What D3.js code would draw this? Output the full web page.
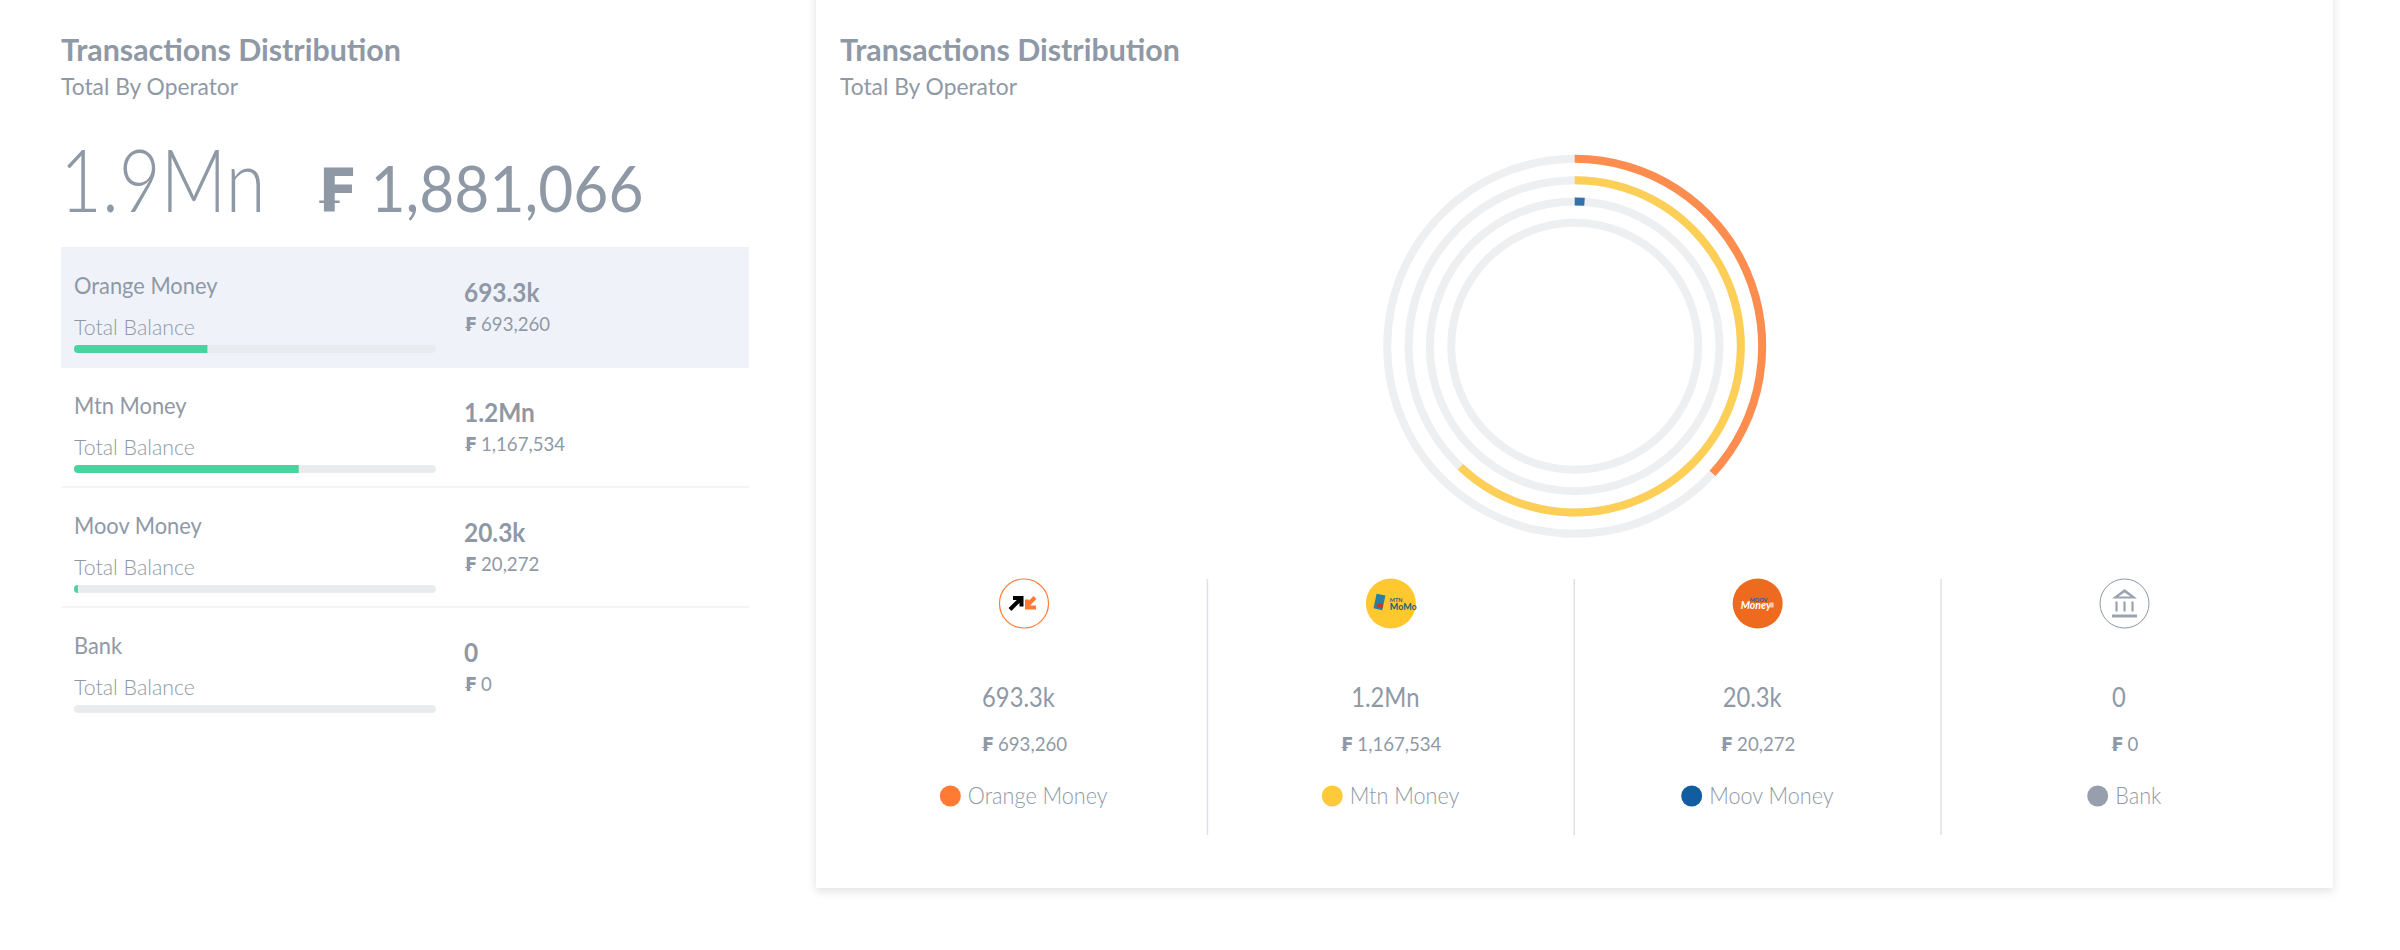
<!DOCTYPE html>
<html>
<head>
<meta charset="utf-8">
<script src="https://cdn.jsdelivr.net/npm/d3@7"></script>
<style>
  html, body { margin: 0; background: #fff; }
  svg { display: block; }
  text { font-family: Lato, "DejaVu Sans", sans-serif; fill: #8f99a6; }
  .title { font-size: 31px; font-weight: 700; }
  .sub { font-size: 24px; }
  .big { font-size: 86px; font-weight: 300; }
  .bigAmount { font-size: 63px; font-weight: 400; }
  .name { font-size: 23px; }
  .caption { font-size: 22px; font-weight: 300; }
  .val { font-size: 26px; font-weight: 700; }
  .amount { font-size: 20px; }
  .colVal { font-size: 27px; }
  .legend { font-size: 23px; font-weight: 300; }
  .cur { font-family: "DejaVu Sans"; font-weight: 700; font-size: 0.95em; }
</style>
</head>
<body>
<svg id="chart" width="2400" height="950"></svg>
<script>
const operators = ["Orange Money", "Mtn Money", "Moov Money", "Bank"]
const amounts = [693260, 1167534, 20272, 0]
const shortAmounts = ["693.3k", "1.2Mn", "20.3k", "0"]
const legendColors = ["#ff7a33", "#ffc93c", "#125ca1", "#979fac"]
const total = 1881066
const totalShort = "1.9Mn"
const currency = "₣"

// Lato runs a bit wider than the original face, so each style gets narrowed
const squeeze = { title: 0.98, sub: 0.95, big: 0.84, bigAmount: 0.96, name: 0.95, caption: 0.97, val: 0.94, amount: 0.93, colVal: 0.88, legend: 0.94 }

const svg = d3.select("#chart")
const fmt = d3.format(",")

const defs = svg.append("defs")
const shadow = defs.append("filter").attr("id", "cardShadow")
  .attr("x", "-5%").attr("y", "-5%").attr("width", "110%").attr("height", "110%")
shadow.append("feDropShadow").attr("dx", 0).attr("dy", 3).attr("stdDeviation", 5)
  .attr("flood-color", "#000").attr("flood-opacity", 0.12)

function fit(t, cls) {
  t.attr("textLength", t.node().getComputedTextLength() * squeeze[cls]).attr("lengthAdjust", "spacingAndGlyphs")
  return t
}

function text(parent, x, y, str, cls, anchor) {
  const t = parent.append("text").attr("x", x).attr("y", y).attr("class", cls)
    .attr("text-anchor", anchor || "start").text(str)
  return fit(t, cls)
}

// text with the franc sign, which only DejaVu has
function money(parent, x, y, value, cls, anchor) {
  const t = parent.append("text").attr("x", x).attr("y", y).attr("class", cls)
    .attr("text-anchor", anchor || "start")
  t.append("tspan").attr("class", "cur").text(currency)
  t.append("tspan").text(" " + value)
  return fit(t, cls)
}

function header(parent, x) {
  text(parent, x, 61, "Transactions Distribution", "title")
  text(parent, x, 95, "Total By Operator", "sub")
}

function small(g, x, y, str, size, color, extra) {
  return g.append("text").attr("x", x).attr("y", y).attr("font-size", size).attr("font-weight", 700)
    .attr("font-style", extra || "normal").style("fill", color).text(str)
}

// hand drawn stand-ins for the operator logos
const drawIcon = [
  g => {
    g.append("circle").attr("r", 24.5).attr("fill", "#fff").attr("stroke", "#ff7a33").attr("stroke-width", 1.2)
    g.append("path").attr("d", "M-14,6L-4,-4M-11,-5.5H-2.5V3").attr("fill", "none").attr("stroke", "#000").attr("stroke-width", 4)
    g.append("path").attr("d", "M11,-6L2,3M3,-4V4H12").attr("fill", "none").attr("stroke", "#ff7a33").attr("stroke-width", 4)
  },
  g => {
    g.append("circle").attr("r", 25).attr("fill", "#ffc82e")
    g.append("rect").attr("x", -16).attr("y", -9).attr("width", 9).attr("height", 15).attr("fill", "#2a7f9e").attr("transform", "rotate(12,-11,-1)")
    g.append("rect").attr("x", -14).attr("y", 0).attr("width", 6).attr("height", 4).attr("fill", "#c8352b")
    small(g, -1, -2, "MTN", 5.5, "#15647a")
    small(g, -1, 6, "MoMo", 9, "#15647a")
  },
  g => {
    g.append("circle").attr("r", 25).attr("fill", "#ed6a1f")
    small(g, -8, -2, "MOOV", 5.5, "#1f5ea8")
    small(g, -17, 5, "Money", 10.5, "#fff", "italic")
    g.append("rect").attr("x", 12).attr("y", -1).attr("width", 4).attr("height", 5).attr("fill", "#f7c9a8")
  },
  g => {
    g.append("circle").attr("r", 24.5).attr("fill", "#fff").attr("stroke", "#8c97a5").attr("stroke-width", 1)
    g.append("path").attr("d", "M0,-14.5L12.5,-5H-12.5Z").attr("fill", "#9aa3af")
    g.append("path").attr("d", "M0,-11L6,-7H-6Z").attr("fill", "#fff")
    g.append("path").attr("d", "M-8,-2V8M0,-2V8M8,-2V8").attr("stroke", "#9aa3af").attr("stroke-width", 2.2)
    g.append("rect").attr("x", -12.5).attr("y", 11).attr("width", 25).attr("height", 3).attr("fill", "#9aa3af")
  }
]

/* left panel */
const left = svg.append("g")
header(left, 61)
text(left, 60, 212, totalShort, "big")
money(left, 315, 212, fmt(total), "bigAmount")

const rowY = d3.scalePoint().domain(operators).range([293, 653])
const barX = d3.scaleLinear().domain([0, total]).range([0, 362])

left.append("rect").attr("x", 61).attr("y", 247).attr("width", 688).attr("height", 121).attr("fill", "#eff2f9")

const clip = defs.selectAll("clipPath").data(operators).join("clipPath").attr("id", (d, i) => "track" + i)
clip.append("rect").attr("x", 74).attr("y", d => rowY(d) + 52).attr("width", 362).attr("height", 8).attr("rx", 4)

operators.forEach((op, i) => {
  const y = rowY(op)
  text(left, 74, y + 1, op, "name")
  text(left, 74, y + 42, "Total Balance", "caption")
  left.append("rect").attr("x", 74).attr("y", y + 52).attr("width", 362).attr("height", 8).attr("rx", 4).attr("fill", "#e9ecef")
  left.append("rect").attr("x", 74).attr("y", y + 52).attr("width", barX(amounts[i])).attr("height", 8)
    .attr("fill", "#4ad29f").attr("clip-path", "url(#track" + i + ")")
  text(left, 464, y + 9, shortAmounts[i], "val")
  money(left, 464, y + 38, fmt(amounts[i]), "amount")
  if (i > 0 && i < 3) {
    left.append("line").attr("x1", 61).attr("x2", 749).attr("y1", y + 74).attr("y2", y + 74).attr("stroke", "#eef0f3").attr("stroke-width", 1.5)
  }
})

/* right card */
const card = svg.append("g")
card.append("rect").attr("x", 816).attr("y", -20).attr("width", 1517).attr("height", 908)
  .attr("fill", "#fff").attr("filter", "url(#cardShadow)")
header(card, 840)

const ringR = d3.scalePoint().domain(operators).range([191.5, 127.5])
const angle = d3.scaleLinear().domain([0, total]).range([0, 2 * Math.PI])
const ringW = 8
const rings = card.append("g").attr("transform", "translate(1574.7,346.3)")
const arc = d3.arc().innerRadius(d => ringR(d.op) - ringW).outerRadius(d => ringR(d.op))

operators.forEach((op, i) => {
  rings.append("path").attr("fill", "#eeeff1").attr("d", arc({ op: op, startAngle: 0, endAngle: 2 * Math.PI }))
  if (amounts[i] > 0) {
    rings.append("path").attr("fill", legendColors[i]).attr("opacity", 0.85)
      .attr("d", arc({ op: op, startAngle: 0, endAngle: angle(amounts[i]) }))
  }
})

const colX = d3.scalePoint().domain(operators).range([1024, 2124.5])

// column separators sit half way between the column centres
operators.slice(0, 3).forEach(op => {
  const x = colX(op) + colX.step() / 2
  card.append("line").attr("x1", x).attr("x2", x).attr("y1", 579).attr("y2", 835).attr("stroke", "#dee2e6").attr("stroke-width", 1.5)
})

operators.forEach((op, i) => {
  const x = colX(op)
  const icon = card.append("g").attr("transform", "translate(" + x + ",603.5)")
  drawIcon[i](icon)
  text(card, x - 5.5, 707, shortAmounts[i], "colVal", "middle")
  money(card, x, 751, fmt(amounts[i]), "amount", "middle")

  const lg = card.append("g")
  lg.append("circle").attr("cx", 10).attr("cy", 796).attr("r", 10.5).attr("fill", legendColors[i])
  const lab = text(lg, 27.5, 804, op, "legend")
  const w = 27.5 + lab.node().getComputedTextLength()
  lg.attr("transform", "translate(" + (x - w / 2) + ",0)")
})
</script>
</body>
</html>
